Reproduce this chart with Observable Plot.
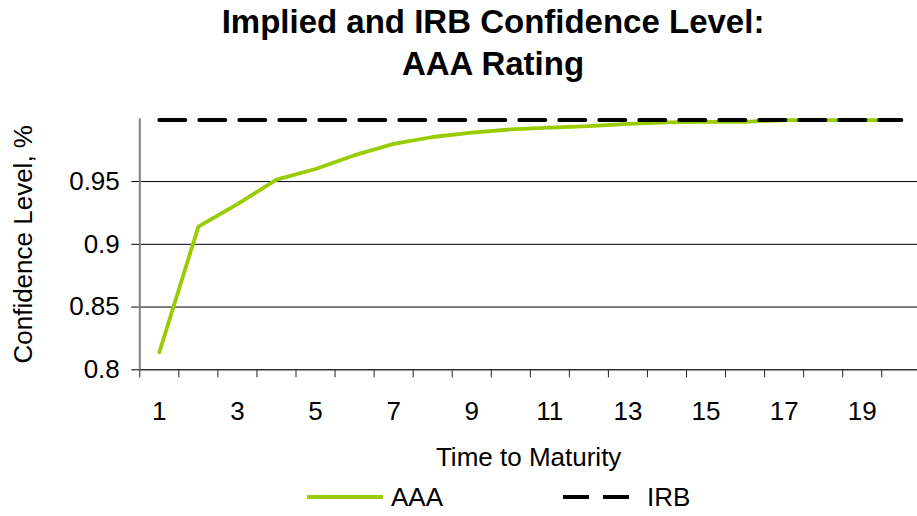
<!DOCTYPE html>
<html>
<head>
<meta charset="utf-8">
<script src="https://cdn.jsdelivr.net/npm/d3@7"></script>
<script src="https://cdn.jsdelivr.net/npm/@observablehq/plot@0.6"></script>
<style>
  html, body { margin: 0; padding: 0; background: #fff; overflow: hidden; }
  #wrap { position: relative; width: 917px; height: 516px; overflow: hidden; font-family: "Liberation Sans", Arial, sans-serif; }
  #title { position: absolute; left: 493px; top: 1px; transform: translateX(-50%); text-align: center; font-weight: bold; font-size: 33px; line-height: 42px; white-space: nowrap; color: #000; }
  #chart { position: absolute; left: 0; top: 0; }
  .leg { position: absolute; top: 482px; height: 30px; display: flex; align-items: center; font-size: 26px; color: #000; }
  .leg svg { display: block; margin-right: 8px; }
</style>
</head>
<body>
<div id="wrap">
  <div id="chart"></div>
  <div id="title">Implied and IRB Confidence Level:<br>AAA Rating</div>
  <div class="leg" id="leg1" style="left:307px"></div>
  <div class="leg" id="leg2" style="left:563px"></div>
</div>
<script>
// Data
const maturity = [1,2,3,4,5,6,7,8,9,10,11,12,13,14,15,16,17,18,19,20];
const aaa = [0.814,0.914,0.932,0.9515,0.960,0.971,0.980,0.9855,0.989,0.9915,0.993,0.9942,0.996,0.9972,0.9976,0.9976,0.999,0.999,0.999,0.999];
const irb = [0.999,0.999,0.999,0.999,0.999,0.999,0.999,0.999,0.999,0.999,0.999,0.999,0.999,0.999,0.999,0.999,0.999,0.999,0.999,0.999];
const xTickLabels = [1,3,5,7,9,11,13,15,17,19];
const yTickLabels = [0.8,0.85,0.9,0.95];
const seriesNames = ["AAA","IRB"];

const green = "#99CC00";
const rowsAAA = maturity.map((m,i)=>({m, v: aaa[i]}));
const rowsIRB = maturity.map((m,i)=>({m, v: irb[i]}));
const boundaries = maturity.map(m => m - 0.5);

const chart = Plot.plot({
  width: 917,
  height: 516,
  marginTop: 118.3,
  marginBottom: 146.7,
  marginLeft: 139.3,
  marginRight: 0,
  style: { fontFamily: "'Liberation Sans', Arial, sans-serif", fontSize: "26px", color: "#000", background: "transparent", overflow: "visible" },
  x: { type: "linear", domain: [0.5, 20.5], range: [139.3, 920.3] },
  y: { domain: [0.8, 1.0] },
  marks: [
    Plot.gridY(yTickLabels.slice(1), { stroke: "#000", strokeOpacity: 1, strokeWidth: 1 }),
    Plot.axisY(yTickLabels, { tickSize: 8, tickPadding: 12, tickFormat: d => String(d), stroke: "#000", label: "Confidence Level, %", labelAnchor: "center", labelArrow: "none", labelOffset: 126 }),
    Plot.axisX(boundaries, { tickSize: 8, tickFormat: () => "", stroke: "#222", label: null }),
    Plot.axisX(xTickLabels, { tickSize: 0, tickPadding: 32, label: "Time to Maturity", labelAnchor: "center", labelArrow: "none", labelOffset: 96 }),
    Plot.ruleY([0.8], { stroke: "#333", strokeWidth: 1.5 }),
    Plot.ruleX([0.5], { stroke: "#808080", strokeWidth: 2 }),
    Plot.line(rowsAAA, { x: "m", y: "v", stroke: green, strokeWidth: 3.8 }),
    Plot.line(rowsIRB, { x: "m", y: "v", stroke: "#000", strokeWidth: 4, strokeDasharray: "26,14" })
  ]
});
document.getElementById("chart").appendChild(chart);

// Legend
function swatch(color, dash) {
  const ns = "http://www.w3.org/2000/svg";
  const s = document.createElementNS(ns, "svg");
  s.setAttribute("width", 76); s.setAttribute("height", 10);
  const l = document.createElementNS(ns, "line");
  l.setAttribute("x1", 0); l.setAttribute("x2", dash ? 66 : 76);
  l.setAttribute("y1", 5); l.setAttribute("y2", 5);
  l.setAttribute("stroke", color); l.setAttribute("stroke-width", 4);
  if (dash) l.setAttribute("stroke-dasharray", "26,14");
  s.appendChild(l);
  return s;
}
const leg1 = document.getElementById("leg1");
leg1.appendChild(swatch(green, false));
leg1.appendChild(document.createTextNode(seriesNames[0]));
const leg2 = document.getElementById("leg2");
leg2.appendChild(swatch("#000", true));
leg2.appendChild(document.createTextNode(seriesNames[1]));
</script>
</body>
</html>
